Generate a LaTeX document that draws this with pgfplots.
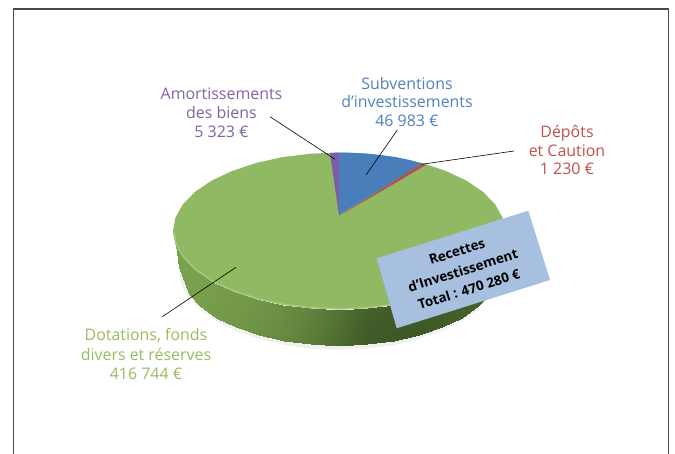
\documentclass[border=0pt]{standalone}
\usepackage{fontspec}
\setmainfont{Open Sans}
\usepackage{pgfplots}
\pgfplotsset{compat=1.18}
\definecolor{gtop}{HTML}{8FB962}
\definecolor{grim}{HTML}{A6C97C}
\definecolor{bslice}{HTML}{4A7EBB}
\definecolor{pslice}{HTML}{7B5EA7}
\definecolor{rslice}{HTML}{B5524E}
\definecolor{tpurple}{HTML}{8064A2}
\definecolor{tblue}{HTML}{4F81BD}
\definecolor{tred}{HTML}{C0504D}
\definecolor{tgreen}{HTML}{98BB5E}
\definecolor{boxc}{HTML}{A7C0E0}
\definecolor{framec}{HTML}{4A4A4A}
\pgfplotsset{colormap={side}{rgb255(0pt)=(62,88,38) rgb255(1pt)=(126,166,80)}}
\begin{document}
\begin{tikzpicture}
\path[use as bounding box] (0,0) rectangle (675bp,454bp);
\begin{axis}[
  at={(0,0)}, anchor=south west,
  scale only axis, width=675bp, height=454bp,
  xmin=0, xmax=675, ymin=0, ymax=454, y dir=reverse,
  hide axis, clip=true,
  colormap name=side, point meta min=0, point meta max=1,
]
% soft shadow
\addplot[fill=black!6, draw=none] coordinates {(179,272)(181.4,285)(188.6,298)(200.4,310)(216.4,321)(236.2,331)(259,339)(284.3,345)(311.2,348.5)(339,349.5)(366.8,348.5)(393.7,345)(419,339)(441.8,331)(461.6,321)(477.6,310)(339,270)} --cycle;
% side of the pie
\addplot[patch, patch type=rectangle, shader=interp, point meta=explicit] table[meta=c] {
x y c
175.5 244.6 0.95
183 257.8 0.95
188.6 293.8 0.9
179 267 0.9
183 257.8 0.95
195.2 270.3 0.95
200.4 306.3 0.9
188.6 293.8 0.9
195.2 270.3 0.95
211.8 281.5 0.9
216.4 317.5 0.85
200.4 306.3 0.9
211.8 281.5 0.9
232.3 291.1 0.85
236.2 327.1 0.8
216.4 317.5 0.85
232.3 291.1 0.85
256 299 0.8
259 335 0.72
236.2 327.1 0.8
256 299 0.8
282.2 304.8 0.7
284.3 340.8 0.62
259 335 0.72
282.2 304.8 0.7
310.2 308.3 0.55
311.2 344.3 0.45
284.3 340.8 0.62
310.2 308.3 0.55
339 309.5 0.35
339 345.5 0.22
311.2 344.3 0.45
339 309.5 0.35
367.8 308.3 0.12
366.8 344.3 0.03
339 345.5 0.22
367.8 308.3 0.12
395.8 304.8 0.05
393.7 340.8 0
366.8 344.3 0.03
395.8 304.8 0.05
422 299 0.03
419 335 0
393.7 340.8 0
422 299 0.03
445.7 291.1 0.08
441.8 327.1 0.05
419 335 0
445.7 291.1 0.08
466.2 281.5 0.12
461.6 317.5 0.1
441.8 327.1 0.05
466.2 281.5 0.12
482.8 270.3 0.15
477.6 306.3 0.12
461.6 317.5 0.1
482.8 270.3 0.15
495 257.8 0.18
489.4 293.8 0.15
477.6 306.3 0.12
};
% top face: green slice spans the whole ellipse, the others lie over it
\addplot[fill=gtop, draw=none] coordinates {(505,231)(502.5,244.6)(495,257.8)(482.8,270.3)(466.2,281.5)(445.7,291.1)(422,299)(395.8,304.8)(367.8,308.3)(339,309.5)(310.2,308.3)(282.2,304.8)(256,299)(232.3,291.1)(211.8,281.5)(195.2,270.3)(183,257.8)(175.5,244.6)(173,231)(175.5,217.4)(183,204.2)(195.2,191.7)(211.8,180.5)(232.3,170.9)(256,163)(282.2,157.2)(310.2,153.7)(339,152.5)(367.8,153.7)(395.8,157.2)(422,163)(445.7,170.9)(466.2,180.5)(482.8,191.7)(495,204.2)(502.5,217.4)} --cycle;
% light rim
\addplot[grim, line width=1.3pt] coordinates {(173.5,231)(176,244)(183.5,257)(195.7,269.5)(212.2,280.7)(232.7,290.3)(256.3,298.2)(282.5,304)(310.4,307.5)(339,308.7)(367.6,307.5)(395.5,304)(421.7,298.2)};
% slices
\addplot[fill=rslice, draw=none] coordinates {(339,216)(421.5,163.4)(426,165)} --cycle;
\addplot[fill=bslice, draw=none] coordinates {(339,215)(339,152.5)(353.5,152.8)(367.8,153.7)(382,155.2)(395.8,157.2)(409,159.9)(422,163.5)} --cycle;
\addplot[fill=pslice, draw=none] coordinates {(339,215.5)(330,153)(339,152.5)} --cycle;
% leader lines
\addplot[black, line width=0.6pt] coordinates {(270,116.7)(335,159.3)};
\addplot[black, line width=0.6pt] coordinates {(397.3,130)(366,175)};
\addplot[black, line width=0.6pt] coordinates {(514,151)(421.7,164.3)};
\addplot[black, line width=0.6pt] coordinates {(236,267.3)(162.3,316.7)};
% frame
\addplot[framec, line width=1.1pt] coordinates {(13.5,455)(13.5,9)(668.8,9)(668.8,455)};
% box
\addplot[fill=boxc, draw=none] coordinates {(376.7,258.3)(528.3,210.7)(550,280)(396.7,328.3)} --cycle;
% labels
\node[align=center, text=tpurple, font=\fontsize{16}{18.9}\selectfont] at (axis cs:221.5,112.5) {Amortissements\\des biens\\5 323 €};
\node[align=center, text=tblue, font=\fontsize{16}{18.4}\selectfont] at (axis cs:407,102) {Subventions\\d’investissements\\46 983 €};
\node[align=center, text=tred, font=\fontsize{16}{18.5}\selectfont] at (axis cs:567,150) {Dépôts\\et Caution\\1 230 €};
\node[align=center, text=tgreen, font=\fontsize{16}{20}\selectfont] at (axis cs:146,354) {Dotations, fonds\\divers et réserves\\416 744 €};
\node[align=center, text=black, rotate=17.4, font=\bfseries\fontsize{13.5}{20}\selectfont] at (axis cs:463,270.5) {Recettes\\d’Investissement\\Total : 470 280 €};
\end{axis}
\end{tikzpicture}
\end{document}
